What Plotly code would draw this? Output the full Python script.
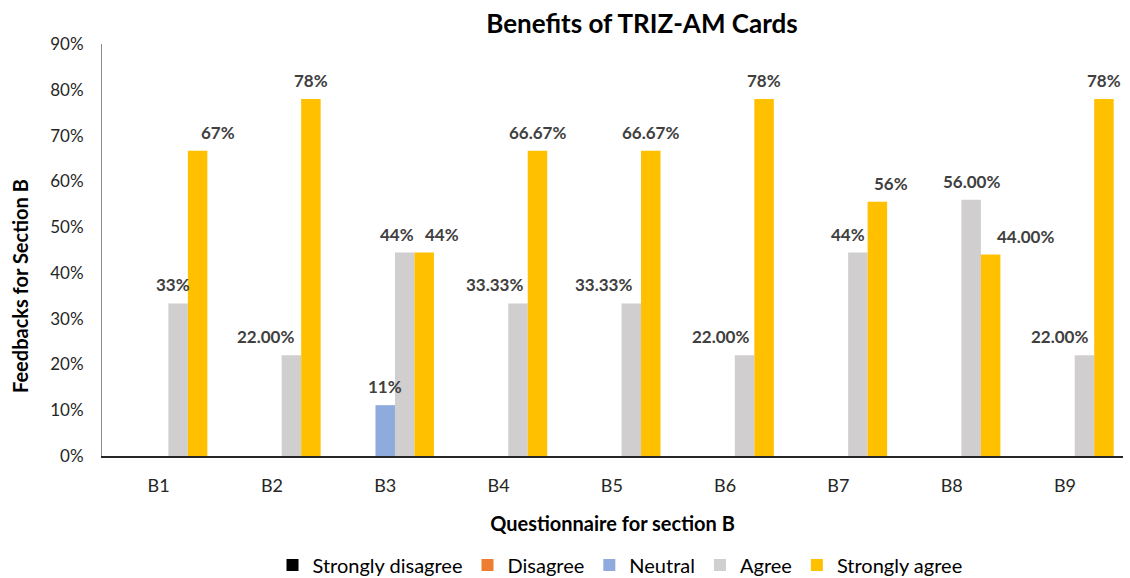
import plotly.graph_objects as go

categories = ["B1", "B2", "B3", "B4", "B5", "B6", "B7", "B8", "B9"]
series_names = ["Strongly disagree", "Disagree", "Neutral", "Agree", "Strongly agree"]
strongly_disagree = [0, 0, 0, 0, 0, 0, 0, 0, 0]
disagree = [0, 0, 0, 0, 0, 0, 0, 0, 0]
neutral = [0, 0, 0.1111, 0, 0, 0, 0, 0, 0]
agree = [0.3333, 0.22, 0.4444, 0.3333, 0.3333, 0.22, 0.4444, 0.56, 0.22]
strongly_agree = [0.6667, 0.78, 0.4444, 0.6667, 0.6667, 0.78, 0.5556, 0.44, 0.78]

# number of decimals shown in each data label
neutral_decimals = [0, 0, 0, 0, 0, 0, 0, 0, 0]
agree_decimals = [0, 2, 0, 2, 2, 2, 0, 2, 2]
strongly_agree_decimals = [0, 0, 0, 2, 2, 0, 0, 2, 0]

colors = ["#000000", "#ED7D31", "#8FAADC", "#D0CECE", "#FFC000"]
series_values = [strongly_disagree, disagree, neutral, agree, strongly_agree]
series_decimals = [None, None, neutral_decimals, agree_decimals, strongly_agree_decimals]
# manual label nudges (pixels), as in the original chart
label_dx = [
    None, None,
    [0, 0, 0, 0, 0, 0, 0, 0, 0],
    [-5, -26, -8, -24, -28, -24, -10, 0, -25],
    [20, 0, 18, 0, 0, 0, 14, 35, 0],
]

FONT = "Lato, 'Open Sans', sans-serif"
W, H = 1130, 578
margin = dict(l=102, r=7, t=44, b=122, autoexpand=False)
bargap = 0.14
plot_w = W - margin["l"] - margin["r"]
plot_h = H - margin["t"] - margin["b"]
cat_px = plot_w / len(categories)
slot_px = cat_px * (1 - bargap) / len(series_names)

fig = go.Figure()
for name, vals, col in zip(series_names, series_values, colors):
    fig.add_trace(go.Bar(name=name, x=categories, y=vals, marker_color=col,
                         marker_line_width=0))

label_font = dict(family=FONT, size=17, color="#404040")
annotations = []
n = len(series_names)
for i, (vals, decs, dxs) in enumerate(zip(series_values, series_decimals, label_dx)):
    if decs is None:
        continue
    for j, v in enumerate(vals):
        if v <= 0:
            continue
        text = f"{v*100:.{decs[j]}f}%"
        offset = (i - (n - 1) / 2) * slot_px
        annotations.append(dict(
            x=categories[j], y=v, xref="x", yref="y", text=f"<b>{text}</b>",
            showarrow=False, xanchor="center", yanchor="bottom",
            xshift=offset + dxs[j], yshift=6, font=label_font))

# y-axis title (placed slightly below the axis centre, as in the original)
annotations.append(dict(
    text="<b>Feedbacks for Section B</b>", xref="paper", yref="paper",
    x=0, y=(456 - 286) / plot_h, xshift=-82, textangle=-90, showarrow=False,
    xanchor="center", yanchor="middle", font=dict(family=FONT, size=20, color="#000000")))

fig.update_layout(
    width=W, height=H, margin=margin,
    paper_bgcolor="white", plot_bgcolor="white",
    barmode="group", bargap=bargap, bargroupgap=0,
    font=dict(family=FONT, color="#404040"),
    title=dict(text="<b>Benefits of TRIZ-AM Cards</b>", x=642 / W, xanchor="center",
               xref="container", yref="container", y=1 - 24 / H, yanchor="middle",
               font=dict(size=26, color="#000000")),
    legend=dict(orientation="h", x=(620 - 102) / plot_w, xanchor="center",
                y=(456 - 565) / plot_h, yanchor="middle",
                font=dict(size=20, color="#000000"), itemwidth=30,
                traceorder="normal"),
    annotations=annotations,
    showlegend=True,
)
fig.update_xaxes(
    showline=True, linecolor="#262626", linewidth=1.5, showgrid=False,
    tickfont=dict(size=18, color="#262626"), ticklabelstandoff=13,
    title=dict(text="<b>Questionnaire for section B</b>", standoff=22,
               font=dict(size=20, color="#000000")),
)
fig.update_yaxes(
    range=[0, 0.9], dtick=0.1, tickformat=".0%", showgrid=False, zeroline=False,
    showline=True, linecolor="#8c8c8c", linewidth=1,
    tickfont=dict(size=17, color="#262626"), ticklabelstandoff=14,
)

fig.write_html("out.html", config={"displayModeBar": False},
               post_script="document.body.style.margin='0';document.body.style.overflow='hidden';")
